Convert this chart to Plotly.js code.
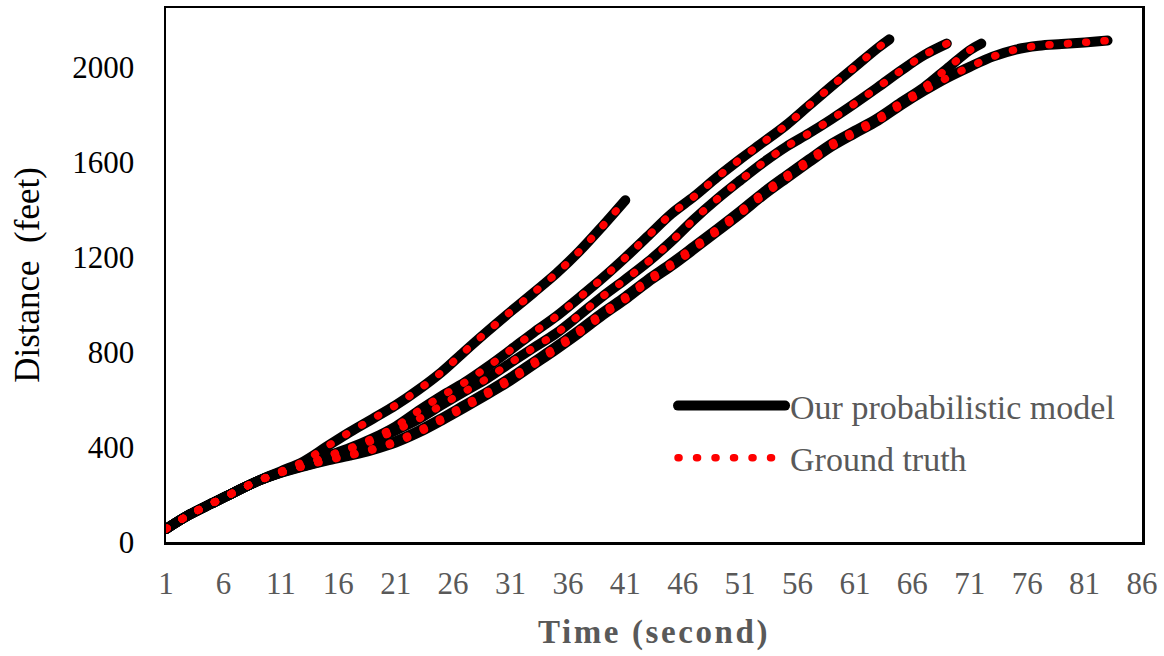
<!DOCTYPE html>
<html>
<head>
<meta charset="utf-8">
<script src="https://cdn.plot.ly/plotly-3.0.1.min.js"></script>
<style>
html, body { margin: 0; padding: 0; background: #ffffff; }
#chart { width: 1164px; height: 656px; }
.js-plotly-plot .scatterlayer path.js-line,
.js-plotly-plot .legend path.js-line { stroke-linecap: round; stroke-linejoin: round; }
.js-plotly-plot .xtitle { letter-spacing: 2.6px; }
</style>
</head>
<body>
<div id="chart"></div>
<script>
// ---- Data (time in seconds, distance in feet) ----
const timeA = [1, 3, 5, 7, 9, 11, 13, 15, 17, 19, 21, 23, 25, 27, 29, 31, 33, 35, 37, 39, 41];
const distA = [55, 114, 163, 211, 257, 298, 340, 402, 463, 519, 576, 642, 716, 803, 888, 970, 1050, 1132, 1225, 1330, 1440];

const timeB = [1, 3, 5, 7, 9, 11, 13, 15, 17, 19, 21, 23, 25, 27, 29, 31, 33, 35, 37, 39, 41, 43, 45, 47, 49, 51, 53, 55, 57, 59, 61, 63, 64];
const distB = [55, 114, 163, 211, 257, 294, 325, 362, 396, 437, 487, 553, 615, 672, 738, 809, 882, 951, 1030, 1111, 1198, 1290, 1382, 1456, 1537, 1613, 1684, 1756, 1839, 1922, 2002, 2082, 2118];

const timeC = [1, 3, 5, 7, 9, 11, 13, 15, 17, 19, 21, 23, 25, 27, 29, 31, 33, 35, 37, 39, 41, 43, 45, 47, 49, 51, 53, 55, 57, 59, 61, 63, 65, 67, 69];
const distC = [55, 114, 163, 211, 257, 294, 323, 358, 392, 427, 470, 518, 577, 634, 690, 755, 818, 880, 956, 1034, 1106, 1181, 1266, 1360, 1445, 1523, 1598, 1665, 1722, 1783, 1848, 1916, 1986, 2051, 2100];

const timeD = [1, 3, 5, 7, 9, 11, 13, 15, 17, 19, 21, 23, 25, 27, 29, 31, 33, 35, 37, 39, 41, 43, 45, 47, 49, 51, 53, 55, 57, 59, 61, 63, 65, 67, 69, 71, 72];
const distD = [55, 114, 163, 211, 257, 292, 320, 346, 368, 393, 425, 469, 521, 577, 633, 692, 758, 824, 893, 966, 1033, 1107, 1174, 1246, 1319, 1394, 1472, 1543, 1612, 1679, 1733, 1787, 1852, 1915, 1994, 2072, 2100];

const timeE = [1, 3, 5, 7, 9, 11, 13, 15, 17, 19, 21, 23, 25, 27, 29, 31, 33, 35, 37, 39, 41, 43, 45, 47, 49, 51, 53, 55, 57, 59, 61, 63, 65, 67, 69, 71, 73, 75, 77, 79, 81, 83];
const distE = [55, 114, 163, 211, 257, 292, 319, 343, 364, 388, 419, 461, 512, 566, 622, 680, 746, 812, 881, 954, 1022, 1096, 1162, 1234, 1308, 1382, 1460, 1531, 1600, 1667, 1722, 1775, 1840, 1900, 1955, 2002, 2045, 2075, 2091, 2098, 2105, 2113];

const vehicles = [
  {t: timeA, d: distA},
  {t: timeB, d: distB},
  {t: timeC, d: distC},
  {t: timeD, d: distD},
  {t: timeE, d: distE}
];

const xTickVals = [1, 6, 11, 16, 21, 26, 31, 36, 41, 46, 51, 56, 61, 66, 71, 76, 81, 86];
const yTickVals = [0, 400, 800, 1200, 1600, 2000];
const modelName = 'Our probabilistic model';
const truthName = 'Ground truth';

// ---- Traces ----
const traces = [];
vehicles.forEach((v, i) => {
  traces.push({
    x: v.t, y: v.d, type: 'scatter', mode: 'lines',
    line: {color: '#000000', width: 10, shape: 'spline', smoothing: 1},
    name: modelName, legendgroup: 'model', showlegend: i === 0,
    hoverinfo: 'skip'
  });
});
vehicles.forEach((v, i) => {
  traces.push({
    x: v.t, y: v.d, type: 'scatter', mode: 'lines',
    line: {color: '#ff0000', width: 7.5, shape: 'spline', smoothing: 1, dash: '1px,17.5px'},
    name: truthName, legendgroup: 'truth', showlegend: i === 0,
    hoverinfo: 'skip'
  });
});

const serif = '"Liberation Serif", "Times New Roman", serif';

const layout = {
  width: 1164, height: 656,
  margin: {l: 166, r: 22, t: 8, b: 114, pad: 0},
  paper_bgcolor: '#ffffff', plot_bgcolor: '#ffffff',
  font: {family: serif, color: '#000000'},
  showlegend: true,
  legend: {
    x: 0.5195, y: 0.309, xanchor: 'left', yanchor: 'top',
    bgcolor: 'rgba(0,0,0,0)', borderwidth: 0,
    font: {family: serif, size: 34, color: '#595959'},
    itemwidth: 107, traceorder: 'grouped', tracegroupgap: 5
  },
  xaxis: {
    range: [1, 86], tickmode: 'array', tickvals: xTickVals,
    ticks: '', showgrid: false, zeroline: false,
    showline: true, mirror: true, linecolor: '#000000', linewidth: 2.5,
    tickfont: {family: serif, size: 31, color: '#595959'},
    ticklabelstandoff: 12,
    title: {text: '<b>Time (second)</b>', font: {family: serif, size: 33, color: '#595959'}, standoff: 20}
  },
  yaxis: {
    range: [0, 2250], tickmode: 'array', tickvals: yTickVals,
    ticks: '', showgrid: false, zeroline: false,
    showline: true, mirror: true, linecolor: '#000000', linewidth: 2.5,
    tickfont: {family: serif, size: 31, color: '#000000'},
    ticklabelstandoff: 23,
    title: {text: 'Distance\u00a0 (feet)', font: {family: serif, size: 35, color: '#000000'}, standoff: 22}
  }
};

Plotly.newPlot('chart', traces, layout, {staticPlot: true, displayModeBar: false});
</script>
</body>
</html>
